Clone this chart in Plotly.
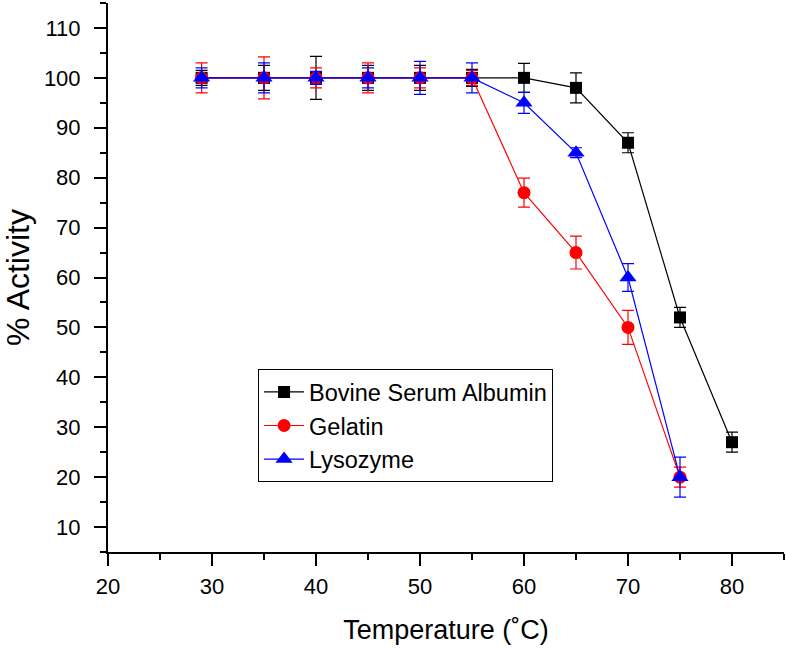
import plotly.graph_objects as go

temperature = [29, 35, 40, 45, 50, 55, 60, 65, 70, 75, 80]
bsa = [100, 100, 100, 100, 100, 100, 100, 98, 87, 52, 27]
bsa_err = [1.5, 2.5, 4.3, 2.5, 2.5, 1.7, 2.9, 3.0, 2.0, 2.0, 2.0]
temperature_gel = [29, 35, 40, 45, 50, 55, 60, 65, 70, 75]
gelatin = [100, 100, 100, 100, 100, 100, 77, 65, 50, 20]
gelatin_err = [3.0, 4.2, 2.0, 3.0, 2.0, 1.5, 2.9, 3.3, 3.4, 2.0]
lysozyme = [100, 100, 100, 100, 100, 100, 95, 85, 60, 20]
lysozyme_err = [2.0, 3.0, 1.3, 2.0, 3.3, 3.0, 2.1, 1.0, 2.8, 4.0]

x_ticks = [20, 30, 40, 50, 60, 70, 80]
y_ticks = [10, 20, 30, 40, 50, 60, 70, 80, 90, 100, 110]

FONT = "Liberation Sans, Arial, sans-serif"

fig = go.Figure()

def add(x, y, err, name, color, symbol, size):
    fig.add_trace(go.Scatter(
        x=x, y=y, name=name, mode="lines+markers",
        line=dict(color=color, width=1.2),
        marker=dict(symbol=symbol, size=size, color=color),
        error_y=dict(type="data", array=err, visible=True,
                     color=color, thickness=1.2, width=6),
    ))

add(temperature, bsa, bsa_err, "Bovine Serum Albumin", "#000000", "square", 12)
add(temperature_gel, gelatin, gelatin_err, "Gelatin", "#ff0000", "circle", 13)
add(temperature_gel, lysozyme, lysozyme_err, "Lysozyme", "#0000ff", "triangle-up", 15)

axis_common = dict(
    showgrid=False, zeroline=False, showline=True, linecolor="black",
    linewidth=2, ticks="outside", ticklen=12, tickwidth=2, tickcolor="black",
    tickfont=dict(family=FONT, size=22, color="black"),
    minor=dict(ticks="outside", ticklen=6, tickwidth=2, tickcolor="black", dtick=5),
    automargin=False,
)

fig.update_layout(
    width=786, height=651,
    margin=dict(l=108, r=2, t=3, b=99),
    plot_bgcolor="white", paper_bgcolor="white",
    font=dict(family=FONT, color="black"),
    xaxis=dict(range=[20, 85], tickvals=x_ticks, ticklabelstandoff=2,
               title=dict(text="Temperature (˚C)", font=dict(family=FONT, size=27), standoff=22),
               **axis_common),
    yaxis=dict(range=[5, 115], tickvals=y_ticks, ticklabelstandoff=9,
               title=dict(text="% Activity", font=dict(family=FONT, size=32), standoff=12),
               **axis_common),
    legend=dict(x=0.222, y=0.333, xanchor="left", yanchor="top",
                bordercolor="black", borderwidth=1, bgcolor="white",
                font=dict(family=FONT, size=23.5, color="black"),
                tracegroupgap=0, itemwidth=40),
    showlegend=True,
)

fig.write_html("out.html", config={"displayModeBar": False},
               post_script="document.body.style.margin='0';")
